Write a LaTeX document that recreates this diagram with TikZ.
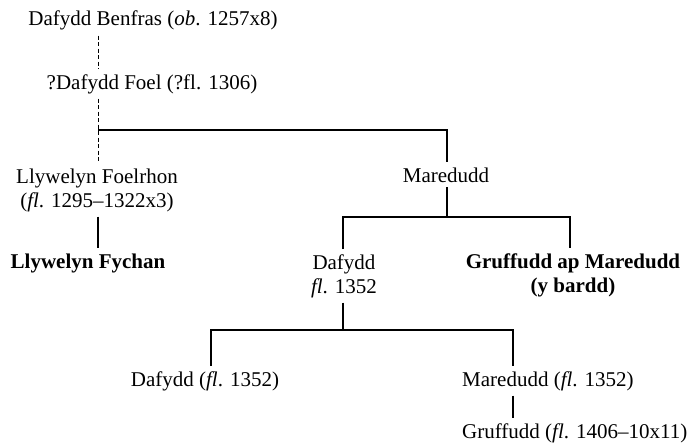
\documentclass[tikz,border=0pt]{standalone}
\usepackage{fontspec}
\setmainfont{Liberation Serif}

\newcommand\treefont{\fontsize{21}{24}\selectfont}

\begin{document}
\begin{tikzpicture}[x=1pt,y=-1pt,
    person/.style={font=\treefont,inner xsep=0pt,inner ysep=5pt,align=center,anchor=base},
    poet/.style={person,font=\treefont\bfseries},
    line/.style={line width=2.4pt},
    dashline/.style={line width=1pt,dash pattern=on 4pt off 2.5pt}]
    \useasboundingbox (0,0) rectangle (691,444);

    \node[person] (benfras) at (153,26) {Dafydd Benfras (\textit{ob}. 1257x8)};
    \node[person] (foel) at (152,89) {?Dafydd Foel (?fl. 1306)};
    \node[person] (foelrhon) at (97,207) {Llywelyn Foelrhon\\(\textit{fl}. 1295–1322x3)};
    \node[poet] (fychan) at (88,268) {Llywelyn Fychan};
    \node[person] (maredudd) at (446,182) {Maredudd};
    \node[person] (dafydd) at (344,293) {Dafydd\\\textit{fl}. 1352};
    \node[poet] (gruffudd) at (573,292) {Gruffudd ap Maredudd\\(y bardd)};
    \node[person] (dafyddB) at (205,386) {Dafydd (\textit{fl}. 1352)};
    \node[person,anchor=base west] (maredB) at (462,386) {Maredudd (\textit{fl}. 1352)};
    \node[person,anchor=base west] (gruffB) at (462,438) {Gruffudd (\textit{fl}. 1406–10x11)};

    \coordinate (fork1) at (98,130);
    \coordinate (fork2) at (447,217);
    \coordinate (fork3) at (343,330);
    \coordinate (bardline) at (570,0);
    \coordinate (dafline) at (211,0);
    \coordinate (maredline) at (513,0);

    \draw[dashline] (benfras.south -| fork1) -- (foel.north -| fork1);
    \draw[dashline] (foel.south -| fork1) -- (foelrhon.north -| fork1);
    \draw[line] (fork1) -| (maredudd.north -| fork2);
    \draw[line] (foelrhon.south -| fork1) -- (fychan.north -| fork1);
    \draw[line] (maredudd.south -| fork2) -- (fork2);
    \draw[line] (dafydd.north -| fork3) |- (fork2) -| (gruffudd.north -| bardline);
    \draw[line] (dafydd.south -| fork3) -- (fork3);
    \draw[line] (dafyddB.north -| dafline) |- (fork3) -| (maredB.north -| maredline);
    \draw[line] (maredB.south -| maredline) -- (gruffB.north -| maredline);
\end{tikzpicture}
\end{document}
